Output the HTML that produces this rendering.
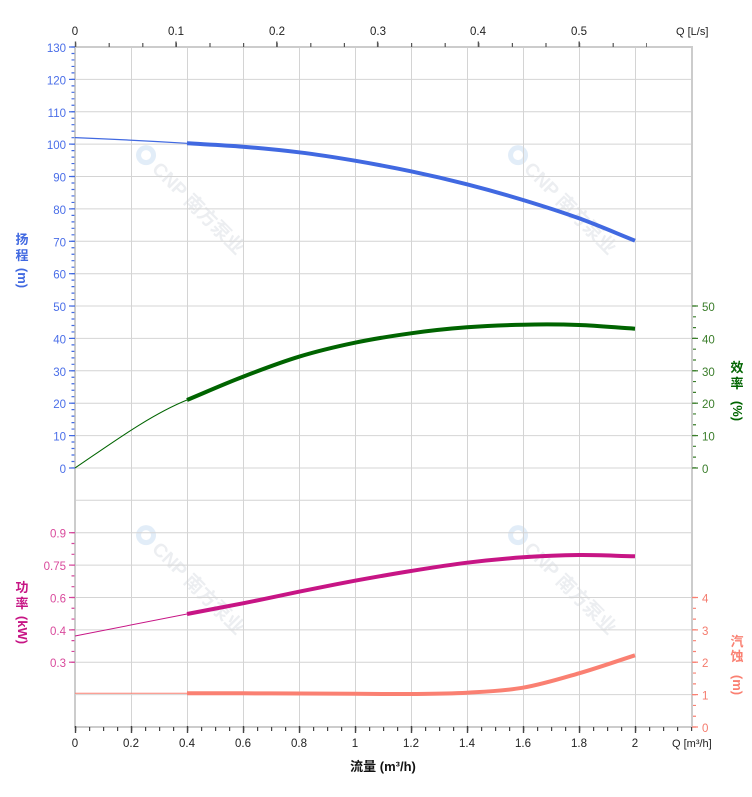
<!DOCTYPE html>
<html><head><meta charset="utf-8"><style>
html,body{margin:0;padding:0;background:#fff;}
svg{display:block;font-family:"Liberation Sans","Noto Sans CJK SC",sans-serif;}
</style></head><body>
<svg width="752" height="797" viewBox="0 0 752 797" xmlns="http://www.w3.org/2000/svg">
<rect width="752" height="797" fill="#fff"/>

<!-- watermarks -->
<g font-weight="bold" font-size="19" fill="#eceef1">
  <g transform="translate(192,211) rotate(45)">
    <circle cx="-72" cy="-7" r="10" fill="#e2edf8"/><circle cx="-72" cy="-7" r="5" fill="#fff"/>
    <text x="-58" y="0">CNP 南方泵业</text>
  </g>
  <g transform="translate(564,211) rotate(45)">
    <circle cx="-72" cy="-7" r="10" fill="#e2edf8"/><circle cx="-72" cy="-7" r="5" fill="#fff"/>
    <text x="-58" y="0">CNP 南方泵业</text>
  </g>
  <g transform="translate(192,591) rotate(45)">
    <circle cx="-72" cy="-7" r="10" fill="#e2edf8"/><circle cx="-72" cy="-7" r="5" fill="#fff"/>
    <text x="-58" y="0">CNP 南方泵业</text>
  </g>
  <g transform="translate(564,591) rotate(45)">
    <circle cx="-72" cy="-7" r="10" fill="#e2edf8"/><circle cx="-72" cy="-7" r="5" fill="#fff"/>
    <text x="-58" y="0">CNP 南方泵业</text>
  </g>
</g>

<!-- grid -->
<g stroke="#d4d4d4" stroke-width="1">
  <line x1="75" x2="692" y1="79.4" y2="79.4"/>
  <line x1="75" x2="692" y1="111.8" y2="111.8"/>
  <line x1="75" x2="692" y1="144.1" y2="144.1"/>
  <line x1="75" x2="692" y1="176.5" y2="176.5"/>
  <line x1="75" x2="692" y1="208.9" y2="208.9"/>
  <line x1="75" x2="692" y1="241.3" y2="241.3"/>
  <line x1="75" x2="692" y1="273.7" y2="273.7"/>
  <line x1="75" x2="692" y1="306.0" y2="306.0"/>
  <line x1="75" x2="692" y1="338.4" y2="338.4"/>
  <line x1="75" x2="692" y1="370.8" y2="370.8"/>
  <line x1="75" x2="692" y1="403.2" y2="403.2"/>
  <line x1="75" x2="692" y1="435.6" y2="435.6"/>
  <line x1="75" x2="692" y1="468.0" y2="468.0"/>
  <line x1="75" x2="692" y1="500.3" y2="500.3"/>
  <line x1="75" x2="692" y1="532.7" y2="532.7"/>
  <line x1="75" x2="692" y1="565.1" y2="565.1"/>
  <line x1="75" x2="692" y1="597.5" y2="597.5"/>
  <line x1="75" x2="692" y1="629.9" y2="629.9"/>
  <line x1="75" x2="692" y1="662.2" y2="662.2"/>
  <line x1="75" x2="692" y1="694.6" y2="694.6"/>
  <line x1="131.5" x2="131.5" y1="47" y2="727"/>
  <line x1="187.5" x2="187.5" y1="47" y2="727"/>
  <line x1="243.5" x2="243.5" y1="47" y2="727"/>
  <line x1="299.5" x2="299.5" y1="47" y2="727"/>
  <line x1="355.5" x2="355.5" y1="47" y2="727"/>
  <line x1="411.5" x2="411.5" y1="47" y2="727"/>
  <line x1="467.5" x2="467.5" y1="47" y2="727"/>
  <line x1="523.5" x2="523.5" y1="47" y2="727"/>
  <line x1="579.5" x2="579.5" y1="47" y2="727"/>
  <line x1="635.5" x2="635.5" y1="47" y2="727"/>
</g>
<!-- frame -->
<g stroke="#cccccc" stroke-width="2" fill="none">
  <line x1="74" x2="693" y1="47" y2="47"/>
  <line x1="74" x2="693" y1="727" y2="727"/>
  <line x1="75" x2="75" y1="46" y2="728"/>
  <line x1="692" x2="692" y1="46" y2="728"/>
</g>

<!-- top axis ticks -->
<line x1="75" x2="647" y1="45" y2="45" stroke="#555" stroke-width="4" stroke-dasharray="1.2 32.4"/>
<g stroke="#555" stroke-width="1.4">
  <line x1="75.5" x2="75.5" y1="41.5" y2="47"/>
  <line x1="176" x2="176" y1="41.5" y2="47"/>
  <line x1="276.8" x2="276.8" y1="41.5" y2="47"/>
  <line x1="377.6" x2="377.6" y1="41.5" y2="47"/>
  <line x1="478.4" x2="478.4" y1="41.5" y2="47"/>
  <line x1="579.2" x2="579.2" y1="41.5" y2="47"/>
</g>
<g font-size="11.5" fill="#222" text-anchor="middle">
  <text x="75" y="35">0</text>
  <text x="176" y="35">0.1</text>
  <text x="277" y="35">0.2</text>
  <text x="378" y="35">0.3</text>
  <text x="478" y="35">0.4</text>
  <text x="579" y="35">0.5</text>
</g>
<text x="676" y="35" font-size="11" fill="#222">Q [L/s]</text>

<!-- bottom axis ticks -->
<line x1="75" x2="693" y1="729" y2="729" stroke="#444" stroke-width="4" stroke-dasharray="1.2 12.8"/>
<g stroke="#444" stroke-width="1.4">
  <line x1="75.5" x2="75.5" y1="726" y2="733"/>
  <line x1="131.5" x2="131.5" y1="726" y2="733"/>
  <line x1="187.5" x2="187.5" y1="726" y2="733"/>
  <line x1="243.5" x2="243.5" y1="726" y2="733"/>
  <line x1="299.5" x2="299.5" y1="726" y2="733"/>
  <line x1="355.5" x2="355.5" y1="726" y2="733"/>
  <line x1="411.5" x2="411.5" y1="726" y2="733"/>
  <line x1="467.5" x2="467.5" y1="726" y2="733"/>
  <line x1="523.5" x2="523.5" y1="726" y2="733"/>
  <line x1="579.5" x2="579.5" y1="726" y2="733"/>
  <line x1="635.5" x2="635.5" y1="726" y2="733"/>
</g>
<g font-size="11.5" fill="#222" text-anchor="middle">
  <text x="75" y="747">0</text>
  <text x="131" y="747">0.2</text>
  <text x="187" y="747">0.4</text>
  <text x="243" y="747">0.6</text>
  <text x="299" y="747">0.8</text>
  <text x="355" y="747">1</text>
  <text x="411" y="747">1.2</text>
  <text x="467" y="747">1.4</text>
  <text x="523" y="747">1.6</text>
  <text x="579" y="747">1.8</text>
  <text x="635" y="747">2</text>
</g>
<text x="672" y="747" font-size="11" fill="#222">Q [m³/h]</text>
<text x="383" y="771" font-size="13" font-weight="bold" fill="#111" text-anchor="middle">流量 (m³/h)</text>

<!-- left head axis -->
<line x1="73" x2="73" y1="46.4" y2="469" stroke="#4169E1" stroke-width="3" stroke-dasharray="1.2 5.276"/>
<g stroke="#4169E1" stroke-width="1.2">
  <line x1="69" x2="75" y1="47" y2="47"/>
  <line x1="69" x2="75" y1="79.4" y2="79.4"/>
  <line x1="69" x2="75" y1="111.8" y2="111.8"/>
  <line x1="69" x2="75" y1="144.1" y2="144.1"/>
  <line x1="69" x2="75" y1="176.5" y2="176.5"/>
  <line x1="69" x2="75" y1="208.9" y2="208.9"/>
  <line x1="69" x2="75" y1="241.3" y2="241.3"/>
  <line x1="69" x2="75" y1="273.7" y2="273.7"/>
  <line x1="69" x2="75" y1="306.0" y2="306.0"/>
  <line x1="69" x2="75" y1="338.4" y2="338.4"/>
  <line x1="69" x2="75" y1="370.8" y2="370.8"/>
  <line x1="69" x2="75" y1="403.2" y2="403.2"/>
  <line x1="69" x2="75" y1="435.6" y2="435.6"/>
  <line x1="69" x2="75" y1="468.0" y2="468.0"/>
</g>
<g font-size="11.5" fill="#4a6ee8" text-anchor="end">
  <text x="66" y="52">130</text>
  <text x="66" y="84.4">120</text>
  <text x="66" y="116.8">110</text>
  <text x="66" y="149.1">100</text>
  <text x="66" y="181.5">90</text>
  <text x="66" y="213.9">80</text>
  <text x="66" y="246.3">70</text>
  <text x="66" y="278.7">60</text>
  <text x="66" y="311">50</text>
  <text x="66" y="343.4">40</text>
  <text x="66" y="375.8">30</text>
  <text x="66" y="408.2">20</text>
  <text x="66" y="440.6">10</text>
  <text x="66" y="473">0</text>
</g>
<g font-size="13" font-weight="bold" fill="#4169E1" text-anchor="middle">
  <text x="22" y="244">扬</text>
  <text x="22" y="260">程</text>
  <text transform="translate(18,278) rotate(90)" x="0" y="0">(m)</text>
</g>

<!-- left power axis -->
<line x1="73" x2="73" y1="532.1" y2="663" stroke="#d4459a" stroke-width="3" stroke-dasharray="1.2 9.594"/>
<g stroke="#d4459a" stroke-width="1.2">
  <line x1="69" x2="75" y1="532.7" y2="532.7"/>
  <line x1="69" x2="75" y1="565.1" y2="565.1"/>
  <line x1="69" x2="75" y1="597.5" y2="597.5"/>
  <line x1="69" x2="75" y1="629.9" y2="629.9"/>
  <line x1="69" x2="75" y1="662.2" y2="662.2"/>
</g>
<g font-size="11.5" fill="#d94a9c" text-anchor="end">
  <text x="66" y="537.7">0.9</text>
  <text x="66" y="570.1">0.75</text>
  <text x="66" y="602.5">0.6</text>
  <text x="66" y="634.9">0.4</text>
  <text x="66" y="667.2">0.3</text>
</g>
<g font-size="13" font-weight="bold" fill="#C71585" text-anchor="middle">
  <text x="22" y="592">功</text>
  <text x="22" y="608">率</text>
  <text transform="translate(18,630) rotate(90)" x="0" y="0">(kW)</text>
</g>

<!-- right efficiency axis -->
<line x1="694.5" x2="694.5" y1="305.4" y2="469" stroke="#3a7d2a" stroke-width="3" stroke-dasharray="1.2 9.594"/>
<g stroke="#3a7d2a" stroke-width="1.2">
  <line x1="692" x2="698" y1="306.0" y2="306.0"/>
  <line x1="692" x2="698" y1="338.4" y2="338.4"/>
  <line x1="692" x2="698" y1="370.8" y2="370.8"/>
  <line x1="692" x2="698" y1="403.2" y2="403.2"/>
  <line x1="692" x2="698" y1="435.6" y2="435.6"/>
  <line x1="692" x2="698" y1="468.0" y2="468.0"/>
</g>
<g font-size="11.5" fill="#3a7d2a">
  <text x="702" y="311">50</text>
  <text x="702" y="343.4">40</text>
  <text x="702" y="375.8">30</text>
  <text x="702" y="408.2">20</text>
  <text x="702" y="440.6">10</text>
  <text x="702" y="473">0</text>
</g>
<g font-size="13" font-weight="bold" fill="#006400" text-anchor="middle">
  <text x="737" y="372">效</text>
  <text x="737" y="388">率</text>
  <text transform="translate(733,411) rotate(90)" x="0" y="0">(%)</text>
</g>

<!-- right NPSH axis -->
<line x1="694.5" x2="694.5" y1="596.9" y2="728" stroke="#FA8072" stroke-width="3" stroke-dasharray="1.2 9.594"/>
<g stroke="#FA8072" stroke-width="1.2">
  <line x1="692" x2="698" y1="597.5" y2="597.5"/>
  <line x1="692" x2="698" y1="629.9" y2="629.9"/>
  <line x1="692" x2="698" y1="662.2" y2="662.2"/>
  <line x1="692" x2="698" y1="694.6" y2="694.6"/>
  <line x1="692" x2="698" y1="727" y2="727"/>
</g>
<g font-size="11.5" fill="#f47a6c">
  <text x="702" y="602.5">4</text>
  <text x="702" y="634.9">3</text>
  <text x="702" y="667.2">2</text>
  <text x="702" y="699.6">1</text>
  <text x="702" y="732">0</text>
</g>
<g font-size="13" font-weight="bold" fill="#FA8072" text-anchor="middle">
  <text x="737" y="646">汽</text>
  <text x="737" y="661">蚀</text>
  <text transform="translate(733,685) rotate(90)" x="0" y="0">(m)</text>
</g>

<!-- curves -->
<g fill="none" stroke-linecap="butt" stroke-linejoin="round">
  <!-- head -->
  <path d="M75,137.6 Q131,139.9 187,143.3" stroke="#4169E1" stroke-width="1.2"/>
  <path d="M187,143.3 C205.7,144.4 224.3,145.2 243,146.7 C261.7,148.2 280.3,150 299,152.3 C317.7,154.6 336.3,157.5 355,160.7 C373.7,163.9 392.3,167.4 411,171.3 C429.7,175.2 448.3,179.5 467,184.3 C485.7,189.1 504.3,194.3 523,200 C541.7,205.7 560.3,211.5 579,218.3 C597.7,225.1 616.3,233.2 635,240.7" stroke="#4169E1" stroke-width="4"/>
  <!-- efficiency -->
  <path d="M75,468 C112,443 150,415 187,400" stroke="#006400" stroke-width="1"/>
  <path d="M187,400 C205.7,392.2 224.3,383.9 243,376.7 C261.7,369.5 280.3,362.4 299,356.7 C317.7,351 336.3,346.6 355,342.7 C373.7,338.8 392.3,335.9 411,333.3 C429.7,330.7 448.3,328.7 467,327.3 C485.7,325.9 504.3,325.1 523,324.7 C541.7,324.3 560.3,324.3 579,325 C597.7,325.7 616.3,327.5 635,328.7" stroke="#006400" stroke-width="4"/>
  <!-- power -->
  <path d="M75,636 L187,614" stroke="#C71585" stroke-width="1"/>
  <path d="M187,614 C205.7,610.4 224.3,607 243,603.3 C261.7,599.6 280.3,595.5 299,591.7 C317.7,587.9 336.3,584.2 355,580.7 C373.7,577.3 392.3,574 411,571 C429.7,568 448.3,565 467,562.7 C485.7,560.4 504.3,558.6 523,557.3 C541.7,556 560.3,555.2 579,555 C597.7,554.8 616.3,555.9 635,556.3" stroke="#C71585" stroke-width="4"/>
  <!-- NPSH -->
  <path d="M75,693.3 L187,693.3" stroke="#FA8072" stroke-width="1"/>
  <path d="M187,693.3 C205.7,693.3 224.3,693.3 243,693.3 C261.7,693.3 280.3,693.4 299,693.5 C317.7,693.6 336.3,693.7 355,693.8 C373.7,693.9 392.3,694.1 411,694 C429.7,693.8 448.3,693.7 467,692.7 C485.7,691.6 504.3,690.9 523,687.7 C541.7,684.5 560.3,678.7 579,673.3 C597.7,667.9 616.3,661.3 635,655.3" stroke="#FA8072" stroke-width="4"/>
</g>
</svg>
</body></html>
